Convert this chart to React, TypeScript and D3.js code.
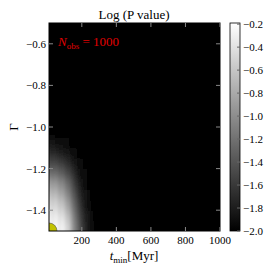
import React from 'react';
import * as d3 from 'd3';

// t_min cell centres [Myr], each cell 20 Myr wide
const tCenters = [20, 40, 60, 80, 100, 120, 140, 160, 180, 200, 220, 240, 260, 280, 300];
// Gamma cell centres, each cell 0.05 tall (bottom to top)
const gammaCenters = [-1.475, -1.425, -1.375, -1.325, -1.275, -1.225, -1.175, -1.125, -1.075, -1.025];
// Log(P value) per gamma row, per t column; everything outside is -2
const logP = [
    [-0.24, -0.24, -0.25, -0.27, -0.33, -0.47, -0.78, -1.06, -1.32, -1.55, -1.73, -1.86, -1.93, -1.96, -1.98],
    [-0.29, -0.31, -0.33, -0.38, -0.47, -0.63, -0.88, -1.15, -1.41, -1.60, -1.77, -1.87, -1.95, -1.98, -2.0],
    [-0.45, -0.47, -0.51, -0.56, -0.67, -0.83, -1.06, -1.28, -1.51, -1.69, -1.82, -1.91, -1.96, -1.98, -2.0],
    [-0.63, -0.65, -0.70, -0.78, -0.88, -1.03, -1.23, -1.42, -1.62, -1.77, -1.87, -1.95, -1.98, -2.0, -2.0],
    [-0.85, -0.87, -0.92, -0.99, -1.08, -1.22, -1.38, -1.56, -1.72, -1.83, -1.91, -1.96, -1.98, -2.0, -2.0],
    [-1.19, -1.21, -1.24, -1.30, -1.37, -1.46, -1.59, -1.71, -1.82, -1.89, -1.95, -1.98, -2.0, -2.0, -2.0],
    [-1.46, -1.48, -1.51, -1.55, -1.60, -1.68, -1.75, -1.82, -1.89, -1.95, -1.98, -2.0, -2.0, -2.0, -2.0],
    [-1.71, -1.73, -1.75, -1.78, -1.82, -1.86, -1.89, -1.93, -1.96, -1.98, -2.0, -2.0, -2.0, -2.0, -2.0],
    [-1.87, -1.87, -1.89, -1.91, -1.93, -1.95, -1.96, -1.98, -2.0, -2.0, -2.0, -2.0, -2.0, -2.0, -2.0],
    [-1.96, -1.96, -1.98, -1.98, -2.0, -2.0, -2.0, -2.0, -2.0, -2.0, -2.0, -2.0, -2.0, -2.0, -2.0],
];
const xTicks = [200, 400, 600, 800, 1000];
const yTicks = [-1.4, -1.2, -1.0, -0.8, -0.6];
const cbTicks = [-2.0, -1.8, -1.6, -1.4, -1.2, -1.0, -0.8, -0.6, -0.4, -0.2];
const marker = { t: 10, gamma: -1.5 };

const fmt = (v: number) => (v < 0 ? '\u2212' : '') + Math.abs(v).toFixed(1);

const App: React.FC = () => {
    const left = 49, right = 220, top = 23, bottom = 231;
    const x = d3.scaleLinear().domain([10, 1000]).range([left, right]);
    const y = d3.scaleLinear().domain([-1.5, -0.5]).range([bottom, top]);
    const color = d3.scaleLinear<string>().domain([-2.0, -0.19]).range(['#000000', '#ffffff']).clamp(true);
    const cbY = d3.scaleLinear().domain([-2.0, -0.19]).range([bottom, top]);
    const cbLeft = 230, cbRight = 240;
    const font = '"Liberation Serif", "Times New Roman", serif';
    const stops = d3.range(0, 1.0001, 0.1);

    return (
        <svg width={274} height={274} style={{ position: 'absolute', left: 0, top: 0 }} fontFamily={font}>
            <defs>
                <clipPath id="plot">
                    <rect x={left} y={top} width={right - left} height={bottom - top} />
                </clipPath>
                <filter id="soft" filterUnits="userSpaceOnUse" x={0} y={0} width={274} height={274}>
                    <feGaussianBlur stdDeviation="1.5 4" />
                </filter>
                <linearGradient id="cb" x1="0" y1="1" x2="0" y2="0">
                    {stops.map(s => (
                        <stop key={s} offset={s} stopColor={color(-2.0 + s * 1.81)} />
                    ))}
                </linearGradient>
            </defs>
            <rect x={0} y={0} width={274} height={274} fill="#fff" />

            <g clipPath="url(#plot)">
                <rect x={left} y={top} width={right - left} height={bottom - top} fill={color(-2)} />
                <g filter="url(#soft)">
                    {gammaCenters.map((g, i) =>
                        tCenters.map((t, j) => {
                            let x0 = x(t - 10), x1 = x(t + 10);
                            let y0 = y(g + 0.025), y1 = y(g - 0.025);
                            if (j === 0) x0 -= 10;
                            if (i === 0) y1 += 12;
                            return (
                                <rect key={`${i}-${j}`} x={x0} y={y0} width={x1 - x0 + 0.3} height={y1 - y0 + 0.3}
                                    fill={color(logP[i][j])} />
                            );
                        })
                    )}
                </g>
                <circle cx={x(marker.t)} cy={y(marker.gamma)} r={8} fill="#c2c200" stroke="#555" strokeWidth={0.6} />
            </g>

            <rect x={left} y={top} width={right - left} height={bottom - top} fill="none" stroke="#000" strokeWidth={1} />

            {xTicks.map(t => (
                <g key={t}>
                    <line x1={x(t)} x2={x(t)} y1={bottom} y2={bottom - 4} stroke="#888" />
                    <line x1={x(t)} x2={x(t)} y1={top} y2={top + 4} stroke="#888" />
                    <text x={x(t)} y={244} textAnchor="middle" fontSize={11}>{t}</text>
                </g>
            ))}
            {yTicks.map(v => (
                <g key={v}>
                    <line x1={left} x2={left + 4} y1={y(v)} y2={y(v)} stroke="#888" />
                    <line x1={right} x2={right - 4} y1={y(v)} y2={y(v)} stroke="#888" />
                    <text x={46} y={y(v) + 4} textAnchor="end" fontSize={11}>{fmt(v)}</text>
                </g>
            ))}

            <text x={134} y={19} textAnchor="middle" fontSize={13}>Log (P value)</text>
            <text x={58} y={46} fill="#e00000" fontSize={13}>
                <tspan fontStyle="italic">N</tspan>
                <tspan fontSize={9} dy={3}>obs</tspan>
                <tspan dy={-3}> = 1000</tspan>
            </text>
            <text x={134} y={260} textAnchor="middle" fontSize={13}>
                <tspan fontStyle="italic">t</tspan>
                <tspan fontSize={9} dy={3}>min</tspan>
                <tspan dy={-3}>[Myr]</tspan>
            </text>
            <text transform={`translate(18, ${(top + bottom) / 2}) rotate(-90)`} textAnchor="middle" fontSize={13}>Γ</text>

            <rect x={cbLeft} y={top} width={cbRight - cbLeft} height={bottom - top} fill="url(#cb)" stroke="#000" strokeWidth={0.8} />
            {cbTicks.map(v => (
                <g key={v}>
                    <line x1={cbRight - 3} x2={cbRight} y1={cbY(v)} y2={cbY(v)} stroke="#666" />
                    <text x={243} y={cbY(v) + 4} fontSize={11}>{fmt(v)}</text>
                </g>
            ))}
        </svg>
    );
};

export default App;
